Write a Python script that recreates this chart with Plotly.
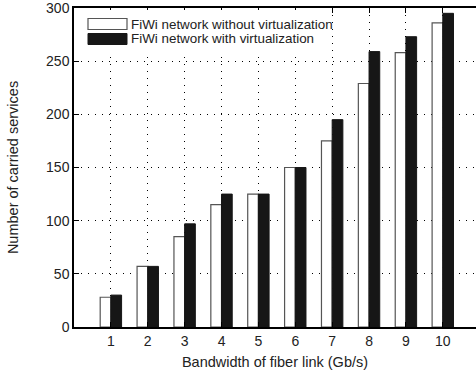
import plotly.graph_objects as go

bandwidth = [1, 2, 3, 4, 5, 6, 7, 8, 9, 10]
without_virt = [28, 57, 85, 115, 125, 150, 175, 229, 258, 286]
with_virt = [30, 57, 97, 125, 125, 150, 195, 259, 273, 295]
series_names = ["FiWi network without virtualization", "FiWi network with virtualization"]
y_ticks = [0, 50, 100, 150, 200, 250, 300]

fig = go.Figure()
fig.add_trace(go.Bar(x=bandwidth, y=without_virt, name=series_names[0],
                     marker=dict(color="white", line=dict(color="#555555", width=1.2))))
fig.add_trace(go.Bar(x=bandwidth, y=with_virt, name=series_names[1],
                     marker=dict(color="#161616", line=dict(color="#161616", width=1))))

font = "Liberation Sans, Arial, Helvetica, sans-serif"
W, L, T, H = 402, 74, 8, 319

def px(x):
    return (x - L) / W

def py(y):
    return (T + H - y) / H

fig.update_layout(
    width=476, height=380,
    margin=dict(l=L, r=0, t=T, b=53),
    paper_bgcolor="white", plot_bgcolor="white",
    barmode="group", bargap=0.42, bargroupgap=0,
    showlegend=False,
    font=dict(family=font, size=13, color="#222"),
    xaxis=dict(range=[0, 10.9], tickvals=bandwidth, ticks="inside", ticklen=5,
               tickcolor="black", showline=True, linecolor="black", linewidth=1.5,
               mirror="ticks", showgrid=True, gridcolor="black", gridwidth=1,
               griddash="1px,6px", zeroline=False, ticklabeloverflow="allow",
               title=dict(text="Bandwidth of fiber link (Gb/s)", standoff=9,
                          font=dict(size=14.5)),
               tickfont=dict(size=14)),
    yaxis=dict(range=[0, 300], tickvals=y_ticks, ticks="inside", ticklen=5,
               tickcolor="black", showline=True, linecolor="black", linewidth=1.5,
               showgrid=True, gridcolor="black", gridwidth=1, griddash="1px,6px",
               zeroline=False, ticklabeloverflow="allow",
               title=dict(text="Number of carried services", standoff=24,
                          font=dict(size=14.5)),
               tickfont=dict(size=14)),
)

# legend background box (covers grid)
fig.add_shape(type="rect", xref="paper", yref="paper",
              x0=px(81), x1=px(331), y0=py(53), y1=py(10),
              fillcolor="white", line=dict(width=0), layer="above")
# manual legend (wide rectangle swatches)
fig.add_shape(type="rect", xref="paper", yref="paper",
              x0=px(88), x1=px(127), y0=py(29.5), y1=py(18.5),
              fillcolor="white", line=dict(color="#555555", width=1.2))
fig.add_shape(type="rect", xref="paper", yref="paper",
              x0=px(88), x1=px(127), y0=py(44.5), y1=py(33.5),
              fillcolor="#161616", line=dict(color="#161616", width=1))
for i, name in enumerate(series_names):
    fig.add_annotation(text=name, xref="paper", yref="paper",
                       x=px(129), y=py(24 + 15 * i),
                       xanchor="left", yanchor="middle", showarrow=False,
                       font=dict(size=13.4, color="#222", family=font))

fig.write_html("out.html")
